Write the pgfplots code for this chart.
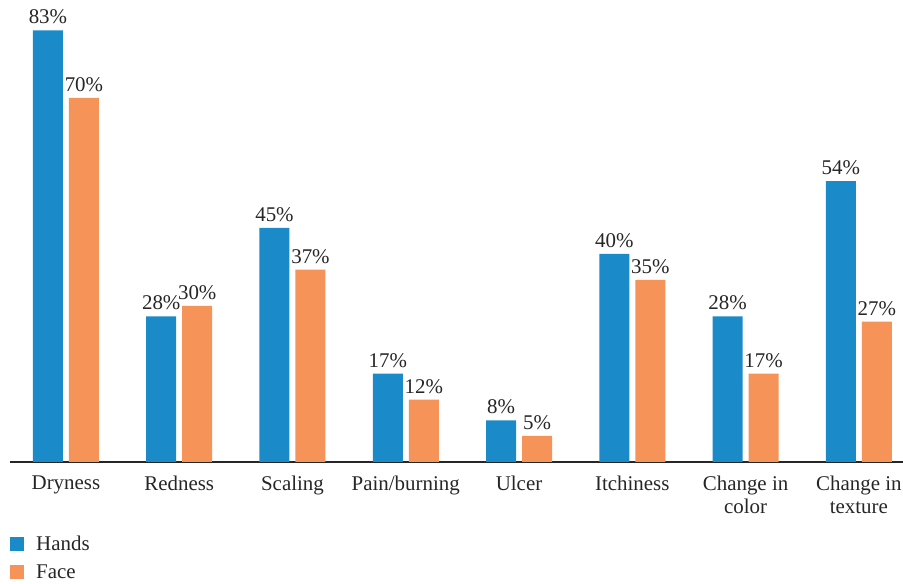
\documentclass[border=0pt]{standalone}
\usepackage{fontspec}
\setmainfont{Liberation Serif}
\usepackage{pgfplots}
\pgfplotsset{compat=1.18}
\definecolor{hands}{HTML}{1A8AC8}
\definecolor{face}{HTML}{F59358}
\definecolor{ink}{HTML}{262626}

\begin{document}
\begin{tikzpicture}[x=1bp,y=1bp]
\useasboundingbox (0,0) rectangle (903,584);
\begin{axis}[
    at={(10bp,122bp)}, anchor=south west,
    scale only axis, width=893bp, height=442bp,
    xmin=-0.494, xmax=7.39, ymin=0, ymax=85,
    ybar=6bp, bar width=30bp,
    axis y line=none, axis x line=bottom,
    axis line style={-, ink, line width=1.3bp},
    xtick={0,...,7},
    xticklabels={Dryness,Redness,Scaling,Pain/burning,Ulcer,Itchiness,{Change in\\color},{Change in\\texture}},
    major tick length=0pt,
    xticklabel style={align=center, font=\fontsize{21}{24}\selectfont, text=ink, anchor=north, yshift=-10bp},
    /pgf/number format/assume math mode=true,
    nodes near coords={\pgfmathprintnumber{\pgfplotspointmeta}\%},
    nodes near coords style={font=\fontsize{21}{24}\selectfont, text=ink, inner sep=2bp, yshift=4bp},
    clip=false,
    legend style={at={(0,-0.162)}, anchor=north west, draw=none, fill=none, inner sep=0pt,
        row sep=9bp, font=\fontsize{21}{24}\selectfont, text=ink,
        nodes={inner xsep=12bp}},
    legend cell align=left,
    legend image code/.code={\fill[#1] (0bp,-7bp) rectangle (14bp,7bp);},
]
\addplot[fill=hands, draw=none] coordinates {(0,83) (1,28) (2,45) (3,17) (4,8) (5,40) (6,28) (7,54)};
\addlegendentry{Hands}
\addplot[fill=face, draw=none] coordinates {(0,70) (1,30) (2,37) (3,12) (4,5) (5,35) (6,17) (7,27)};
\addlegendentry{Face}
\end{axis}
\end{tikzpicture}
\end{document}
